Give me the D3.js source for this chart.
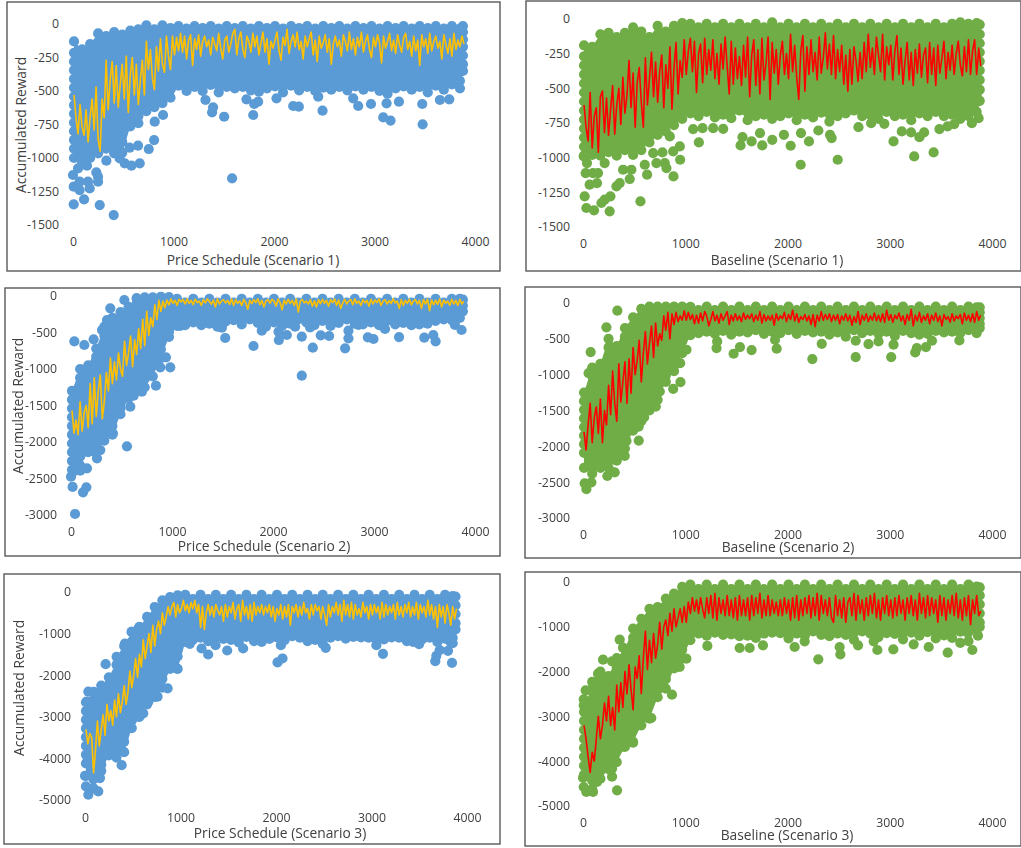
<!DOCTYPE html>
<html><head><meta charset="utf-8">
<script src="https://cdnjs.cloudflare.com/ajax/libs/d3/7.8.5/d3.min.js"></script>
<style>html,body{margin:0;padding:0;background:#fff}svg{display:block;filter:blur(.55px)}text{font-family:"Open Sans",sans-serif;font-size:12.3px;fill:#404040}text.t{font-size:13.8px}</style>
</head><body><svg id="c" width="1021" height="848"></svg>
<script>
const xTicks=[0,1000,2000,3000,4000];
const yTicks1=[0,-250,-500,-750,-1000,-1250,-1500];
const yTicks2=[0,-500,-1000,-1500,-2000,-2500,-3000];
const yTicks3=[0,-1000,-2000,-3000,-4000,-5000];
const titles=["Price Schedule (Scenario 1)","Baseline (Scenario 1)","Price Schedule (Scenario 2)","Baseline (Scenario 2)","Price Schedule (Scenario 3)","Baseline (Scenario 3)"];
const yTitle="Accumulated Reward";
const cloudX=[10,90,170,250,330,410,490,570,650,730,810,890,970,1050,1130,1210,1290,1370,1450,1530,1610,1690,1770,1850,1930,2010,2090,2170,2250,2330,2410,2490,2570,2650,2730,2810,2890,2970,3050,3130,3210,3290,3370,3450,3530,3610,3690,3770,3850,3880];
const lineX=[10,30,50,70,90,110,130,150,170,190,210,230,250,270,290,310,330,350,370,390,410,430,450,470,490,510,530,550,570,590,610,630,650,670,690,710,730,750,770,790,810,830,850,870,890,910,930,950,970,990,1010,1030,1050,1070,1090,1110,1130,1150,1170,1190,1210,1230,1250,1270,1290,1310,1330,1350,1370,1390,1410,1430,1450,1470,1490,1510,1530,1550,1570,1590,1610,1630,1650,1670,1690,1710,1730,1750,1770,1790,1810,1830,1850,1870,1890,1910,1930,1950,1970,1990,2010,2030,2050,2070,2090,2110,2130,2150,2170,2190,2210,2230,2250,2270,2290,2310,2330,2350,2370,2390,2410,2430,2450,2470,2490,2510,2530,2550,2570,2590,2610,2630,2650,2670,2690,2710,2730,2750,2770,2790,2810,2830,2850,2870,2890,2910,2930,2950,2970,2990,3010,3030,3050,3070,3090,3110,3130,3150,3170,3190,3210,3230,3250,3270,3290,3310,3330,3350,3370,3390,3410,3430,3450,3470,3490,3510,3530,3550,3570,3590,3610,3630,3650,3670,3690,3710,3730,3750,3770,3790,3810,3830,3850,3870,3890];

const cloud1=[
[-130,-215,-280,-345,-410,-475,-540,-605,-670,-735,-800,-865,-930,-1000],
[-190,-250,-315,-380,-445,-510,-575,-640,-705,-770,-835,-900,-965,-1030],
[-150,-215,-280,-345,-410,-475,-540,-605,-670,-735,-800,-865,-930,-1000],
[-70,-160,-250,-315,-380,-445,-510,-575,-640,-705,-770,-835,-900,-965],
[-90,-150,-215,-280,-345,-410,-475,-540,-605,-670,-735,-800,-865,-930],
[-60,-120,-185,-250,-315,-380,-445,-510,-575,-640,-705,-770,-835,-900,-965],
[-80,-145,-210,-275,-340,-405,-470,-535,-600,-665,-730,-795,-880,-960],
[-50,-115,-180,-245,-310,-375,-440,-505,-570,-635,-700,-765],
[-40,-105,-170,-235,-300,-365,-430,-495,-560,-625,-690,-740],
[-10,-75,-140,-205,-270,-335,-400,-465,-530,-595,-650],
[-40,-105,-170,-235,-300,-365,-430,-495,-560,-620],
[-10,-70,-135,-200,-265,-330,-395,-460,-525,-590],
[-30,-95,-160,-225,-290,-355,-420,-490,-550],
[-15,-72,-136,-200,-265,-330,-395,-460],
[-35,-100,-165,-230,-295,-360,-425,-500],
[-15,-72,-136,-200,-265,-330,-400,-470],
[-30,-100,-165,-230,-295,-360,-425,-500],
[-15,-72,-136,-200,-265,-330,-390,-455],
[-35,-100,-165,-230,-295,-360,-430,-510],
[-15,-72,-136,-200,-265,-330,-395,-470],
[-30,-100,-165,-230,-295,-355,-420,-480],
[-15,-72,-136,-200,-265,-335,-400,-470],
[-35,-100,-165,-230,-300,-365,-430,-495],
[-15,-72,-136,-200,-265,-330,-395,-505],
[-30,-100,-165,-230,-295,-360,-425,-480],
[-15,-72,-136,-200,-265,-330,-395,-465],
[-35,-100,-165,-230,-295,-360,-430,-510],
[-15,-72,-136,-200,-265,-330,-395,-460],
[-30,-100,-165,-230,-295,-360,-425,-495],
[-15,-72,-136,-200,-265,-330,-400,-470],
[-35,-100,-165,-230,-295,-365,-430,-500],
[-15,-72,-136,-200,-265,-330,-395,-475],
[-30,-100,-165,-230,-295,-360,-420,-490],
[-15,-72,-136,-200,-265,-330,-395,-470],
[-35,-100,-165,-230,-295,-360,-430,-495],
[-15,-72,-136,-200,-265,-330,-400,-465],
[-30,-100,-165,-230,-295,-360,-425,-490],
[-15,-72,-136,-200,-265,-330,-395,-470],
[-35,-100,-165,-230,-295,-360,-430,-500],
[-15,-72,-136,-200,-265,-335,-400,-520],
[-30,-100,-165,-230,-295,-360,-425,-480],
[-15,-72,-136,-200,-265,-330,-395,-465],
[-35,-100,-165,-230,-295,-360,-430,-490],
[-15,-72,-136,-200,-265,-330,-395,-470],
[-30,-100,-165,-230,-295,-360,-430,-510],
[-15,-72,-136,-200,-265,-330,-395,-460],
[-35,-100,-165,-230,-295,-360,-425,-490],
[-15,-72,-136,-200,-265,-330,-395,-450],
[-35,-100,-165,-230,-295,-360,-425,-480],
[-15,-60,-115,-170,-235,-300,-350]];
const outliers1=[[1583,-1152],[3479,-749],[3087,-697],[3160,-721],[2483,-647],[1504,-692],[1384,-659],[1394,-622],[1318,-567],[1793,-679],[1803,-597],[1726,-562],[1842,-580],[2025,-555],[2191,-612],[2247,-617],[2440,-542],[2788,-555],[2838,-612],[2965,-597],[3120,-592],[3243,-580],[3475,-597],[3651,-567],[3744,-562],[896,-679],[813,-729],[807,-866],[754,-933],[647,-908],[564,-923],[664,-1040],[581,-1057],[515,-1040],[465,-1003],[332,-1020],[249,-1177],[266,-1351],[405,-1426],[7,-1346],[110,-1309],[0,-1127],[7,-1214],[66,-1177],[149,-1177],[166,-1227],[139,-1057],[232,-1107],[50,-1077],[249,-1140],[66,-1239]];
const line1=[-530,-700,-820,-600,-770,-830,-640,-880,-700,-560,
-790,-470,-860,-950,-560,-700,-270,-640,-420,-280,
-590,-310,-620,-450,-300,-560,-240,-660,-380,-250,
-530,-300,-600,-420,-270,-530,-130,-340,-190,-400,
-490,-170,-350,-110,-300,-360,-90,-240,-340,-90,
-230,-100,-200,-70,-210,-90,-260,-120,-80,-310,
-110,-190,-80,-240,-130,-90,-170,-120,-230,-100,
-150,-200,-70,-180,-260,-120,-90,-210,-150,-70,
-40,-230,-110,-60,-190,-250,-90,-130,-210,-70,
-170,-90,-230,-140,-60,-210,-110,-300,-130,-180,
-120,-60,-200,-270,-100,-160,-40,-220,-130,-80,
-170,-60,-190,-130,-260,-90,-170,-110,-60,-230,
-120,-280,-90,-180,-140,-80,-210,-110,-300,-150,
-90,-170,-120,-240,-80,-130,-200,-60,-190,-110,
-230,-100,-170,-60,-210,-130,-80,-190,-250,-100,
-170,-80,-140,-290,-90,-180,-130,-70,-200,-120,
-220,-80,-160,-210,-100,-70,-190,-130,-240,-90,
-200,-120,-310,-80,-170,-110,-220,-70,-200,-130,
-90,-180,-130,-260,-80,-150,-220,-110,-240,-70,
-190,-120,-170,-90,-150];

const cloud2=[
[-190,-270,-335,-400,-465,-530,-595,-660,-725,-790,-855,-920,-985],
[-200,-265,-330,-395,-460,-525,-590,-655,-720,-785,-850,-915,-980],
[-110,-200,-270,-335,-400,-465,-530,-595,-660,-725,-790,-855,-920,-985],
[-100,-170,-240,-305,-370,-435,-500,-565,-630,-695,-760,-825,-890,-960],
[-130,-205,-270,-335,-400,-465,-530,-595,-660,-725,-790,-855,-920,-985],
[-100,-165,-230,-295,-360,-425,-490,-555,-620,-685,-750,-815,-880,-945],
[-60,-130,-200,-265,-330,-395,-460,-525,-590,-655,-720,-785,-850,-915,-980],
[-90,-155,-220,-285,-350,-415,-480,-545,-610,-675,-740,-805,-870,-945],
[-130,-195,-260,-325,-390,-455,-520,-585,-650,-715,-780,-845,-890],
[-50,-120,-185,-250,-315,-380,-445,-510,-575,-640,-705,-770,-835],
[-90,-160,-225,-290,-355,-420,-485,-550,-615,-680,-745,-810],
[-50,-115,-180,-245,-310,-375,-440,-505,-570,-635,-700,-765],
[-30,-85,-150,-215,-280,-345,-410,-475,-540,-605,-670,-720],
[-35,-100,-165,-230,-295,-360,-425,-490,-555,-620,-680],
[-60,-125,-190,-255,-320,-385,-450,-515,-580,-640,-700],
[-35,-100,-165,-230,-295,-360,-425,-490,-555,-620,-670],
[-60,-125,-190,-255,-320,-385,-450,-515,-580,-645,-710],
[-35,-100,-165,-230,-295,-360,-425,-490,-555,-620,-690],
[-60,-125,-190,-255,-320,-385,-450,-515,-580,-640,-715],
[-35,-100,-165,-230,-295,-360,-425,-490,-555,-610,-660],
[-60,-125,-190,-255,-320,-385,-450,-515,-580,-650,-730],
[-35,-100,-165,-230,-295,-360,-425,-490,-555,-620,-700],
[-60,-125,-190,-255,-320,-385,-450,-515,-580,-640,-690],
[-25,-100,-165,-230,-295,-360,-425,-490,-555,-620,-720],
[-60,-125,-190,-255,-320,-385,-450,-515,-580,-640,-700],
[-35,-100,-165,-230,-295,-360,-425,-490,-555,-620,-680],
[-60,-125,-190,-255,-320,-385,-450,-515,-580,-645,-730],
[-35,-100,-165,-230,-295,-360,-425,-490,-555,-620,-690],
[-60,-125,-190,-255,-320,-385,-450,-515,-580,-650,-710],
[-35,-100,-165,-230,-295,-360,-425,-490,-555,-620,-675],
[-60,-125,-190,-255,-320,-385,-450,-515,-580,-640,-740],
[-35,-100,-165,-230,-295,-360,-425,-490,-555,-620,-700],
[-60,-125,-190,-255,-320,-385,-450,-515,-580,-645,-680],
[-35,-100,-165,-230,-295,-360,-425,-490,-555,-610,-660],
[-60,-125,-190,-255,-320,-385,-450,-515,-580,-640,-700],
[-35,-100,-165,-230,-295,-360,-425,-490,-555,-620,-690],
[-60,-125,-190,-255,-320,-385,-450,-515,-580,-640,-720],
[-35,-100,-165,-230,-295,-360,-425,-490,-555,-610,-670],
[-60,-125,-190,-255,-320,-385,-450,-515,-580,-650,-700],
[-35,-100,-165,-230,-295,-360,-425,-490,-555,-620,-690],
[-60,-125,-190,-255,-320,-385,-450,-515,-580,-640,-730],
[-35,-100,-165,-230,-295,-360,-425,-490,-555,-610,-680],
[-60,-125,-190,-255,-320,-385,-450,-515,-580,-640,-700],
[-35,-100,-165,-230,-295,-360,-425,-490,-555,-620,-670],
[-60,-125,-190,-255,-320,-385,-450,-515,-580,-645,-700],
[-35,-100,-165,-230,-295,-360,-425,-490,-555,-620,-690],
[-25,-125,-190,-255,-320,-385,-450,-515,-580,-640,-720],
[-35,-100,-165,-230,-295,-360,-425,-490,-555,-620,-700],
[-30,-95,-160,-225,-290,-355,-420,-485,-550,-600,-670],
[-40,-110,-175,-240,-305,-370,-440,-510,-590]];
const outliers2=[[2129,-1051],[2491,-1015],[3239,-991],[3429,-962],[3037,-883],[1133,-890],[950,-1015],[885,-1135],[627,-1123],[562,-1315],[457,-1154],[261,-1387],[108,-1380],[33,-1363],[16,-1279],[268,-1279],[180,-1327],[212,-1303],[327,-1207],[359,-1183],[26,-1111],[98,-1111],[147,-1111],[137,-1183],[65,-1195],[39,-1039],[7,-991],[212,-1039],[392,-1087],[473,-1087],[604,-1051],[686,-967],[777,-962],[800,-1039],[816,-1075],[718,-1039],[882,-955],[947,-919],[849,-847],[1541,-912],[1649,-883],[1753,-912],[1851,-871],[2031,-914],[2210,-883],[2432,-859],[2416,-835],[2132,-823],[1965,-835],[2302,-804],[2694,-780],[2818,-751],[2947,-756],[3118,-811],[3209,-818],[3290,-852],[3336,-818],[3486,-794],[3565,-775],[3631,-758],[3803,-751],[3869,-715],[1371,-792],[1273,-787],[1077,-794],[1169,-787],[1560,-852],[1731,-823]];
const line2=[-620,-780,-880,-530,-930,-700,-640,-960,-560,-520,
-820,-570,-840,-650,-480,-830,-620,-500,-760,-420,
-680,-550,-300,-640,-390,-780,-460,-350,-600,-780,
-280,-620,-430,-240,-560,-310,-600,-380,-260,-640,
-330,-500,-200,-650,-350,-170,-540,-300,-420,-150,
-400,-230,-140,-380,-160,-530,-250,-180,-460,-140,
-400,-220,-370,-150,-430,-250,-470,-180,-360,-130,
-340,-540,-160,-470,-210,-430,-270,-480,-190,-420,
-130,-560,-260,-150,-480,-220,-540,-140,-440,-320,
-130,-580,-170,-390,-220,-470,-260,-160,-400,-250,
-430,-110,-380,-190,-420,-580,-230,-120,-520,-200,
-400,-150,-380,-240,-440,-130,-390,-280,-100,-360,
-180,-400,-120,-430,-220,-380,-190,-470,-260,-520,
-220,-470,-200,-300,-450,-240,-430,-170,-380,-110,
-350,-210,-400,-130,-260,-380,-110,-440,-200,-330,
-190,-440,-230,-120,-400,-210,-470,-300,-170,-440,
-240,-480,-220,-390,-180,-420,-260,-210,-460,-170,
-400,-210,-480,-190,-390,-280,-160,-430,-240,-370,
-190,-400,-250,-160,-330,-410,-200,-380,-150,-400,
-230,-150,-400,-210,-340];

const cloud3=[
[-1300,-1420,-1540,-1660,-1780,-1900,-2020,-2140,-2260,-2380],
[-1000,-1120,-1240,-1360,-1480,-1600,-1720,-1840,-1960,-2080,-2200,-2320],
[-950,-1060,-1180,-1300,-1420,-1540,-1660,-1780,-1900,-2020,-2140],
[-720,-830,-950,-1070,-1190,-1310,-1430,-1550,-1670,-1790,-1910,-2030,-2150],
[-420,-540,-660,-780,-900,-1020,-1140,-1260,-1380,-1500,-1620,-1740,-1860,-1980],
[-300,-420,-540,-660,-780,-900,-1020,-1140,-1260,-1380,-1500,-1620,-1780,-1900],
[-220,-340,-460,-580,-700,-820,-940,-1060,-1180,-1300,-1420,-1540,-1620],
[-150,-270,-390,-510,-630,-750,-870,-990,-1110,-1230,-1350,-1400],
[-30,-100,-220,-340,-460,-580,-700,-820,-940,-1060,-1180,-1300],
[-20,-130,-250,-370,-490,-610,-730,-850,-970,-1090,-1250],
[-20,-110,-230,-350,-470,-590,-710,-830,-950,-1100],
[-10,-130,-250,-370,-490,-610,-730,-850],
[-15,-130,-250,-370,-490,-560],
[-40,-150,-270,-370,-410],
[-90,-210,-330,-400],
[-40,-160,-280,-360],
[-90,-210,-320,-400],
[-40,-160,-280,-380],
[-90,-210,-330,-420],
[-40,-160,-280,-350],
[-90,-210,-330],
[-40,-160,-280,-390],
[-90,-210,-320],
[-40,-160,-280,-370],
[-90,-210,-330,-420],
[-40,-160,-280,-360],
[-90,-210,-330,-410],
[-40,-160,-280,-380],
[-90,-210,-320],
[-40,-160,-280,-360],
[-90,-210,-330,-400],
[-40,-160,-280,-340],
[-90,-210,-330,-410],
[-40,-160,-280,-370],
[-90,-210,-320],
[-40,-160,-280,-380],
[-90,-210,-330,-390],
[-40,-160,-280,-360],
[-90,-210,-330,-400],
[-40,-160,-280,-340],
[-90,-210,-320,-390],
[-40,-160,-280,-370],
[-90,-210,-330,-400],
[-40,-160,-280,-390],
[-90,-210,-330,-380],
[-40,-160,-280,-340],
[-90,-210,-320],
[-40,-160,-280,-330],
[-40,-120,-230,-300],
[-50,-130,-210]];
const outliers3=[[2285,-1091],[40,-2986],[119,-2689],[152,-2621],[16,-2616],[0,-2475],[554,-2059],[587,-1516],[841,-1228],[884,-977],[983,-977],[940,-840],[620,-1365],[702,-1310],[1527,-575],[1807,-685],[2285,-557],[2394,-708],[2714,-717],[2058,-603],[2055,-489],[2137,-534],[2473,-539],[2556,-548],[2747,-580],[2747,-475],[2939,-566],[2995,-589],[3248,-562],[3109,-452],[3498,-571],[3587,-534],[3610,-621],[3867,-466],[3801,-397],[1889,-475],[2367,-429],[2219,-420],[1494,-434],[1081,-411],[2845,-397],[528,-55],[33,-621],[132,-671],[224,-594],[307,-466],[389,-169],[356,-329],[415,-1881],[290,-2110],[257,-2224],[158,-2361],[92,-2393],[33,-2283],[20,-2406]];
const line3=[-1570,-1880,-1700,-1900,-1450,-1850,-1600,-1500,-1800,-1200,
-1750,-1120,-1650,-1300,-1080,-1680,-1450,-1050,-1300,-850,
-1200,-900,-1150,-780,-1000,-1100,-620,-950,-780,-550,
-970,-600,-800,-450,-720,-320,-680,-210,-540,-300,
-420,-120,-320,-60,-210,-70,-160,-55,-120,-40,
-100,-60,-130,-45,-80,-50,-110,-40,-100,-60,
-120,-45,-90,-70,-130,-50,-95,-40,-75,-110,
-55,-150,-40,-110,-70,-50,-95,-60,-115,-40,
-130,-50,-100,-70,-130,-45,-90,-180,-60,-105,
-50,-90,-40,-120,-60,-150,-70,-50,-100,-45,
-70,-140,-40,-90,-190,-55,-110,-45,-100,-60,
-130,-40,-220,-70,-50,-95,-70,-110,-50,-140,
-65,-150,-50,-105,-45,-100,-60,-140,-50,-90,
-40,-130,-55,-170,-95,-45,-110,-70,-50,-120,
-40,-100,-70,-130,-50,-95,-60,-140,-45,-110,
-55,-90,-40,-130,-70,-50,-110,-65,-100,-40,
-95,-70,-170,-50,-130,-60,-100,-45,-120,-70,
-50,-110,-60,-170,-50,-110,-45,-200,-55,-120,
-60,-115,-40,-150,-55,-100,-70,-130,-45,-110,
-60,-130,-45,-110,-70];

const cloud4=[
[-1250,-1370,-1490,-1610,-1730,-1850,-1970,-2090,-2300],
[-900,-1020,-1140,-1260,-1380,-1500,-1620,-1740,-1860,-1980,-2100,-2220,-2380],
[-850,-970,-1090,-1210,-1330,-1450,-1570,-1690,-1810,-1930,-2050,-2170,-2300],
[-500,-620,-740,-860,-980,-1100,-1220,-1340,-1460,-1580,-1700,-1820,-1940,-2060,-2180,-2300],
[-600,-720,-840,-960,-1080,-1200,-1320,-1440,-1560,-1680,-1800,-1920,-2040,-2200],
[-350,-470,-590,-710,-830,-950,-1070,-1190,-1310,-1430,-1550,-1670,-1790,-1910,-2030],
[-200,-320,-440,-560,-680,-800,-920,-1040,-1160,-1280,-1400,-1520,-1640,-1780],
[-80,-200,-320,-440,-560,-680,-800,-920,-1040,-1160,-1280,-1400,-1520,-1650],
[-50,-170,-290,-410,-530,-650,-770,-890,-1010,-1130,-1250,-1370,-1500],
[-50,-150,-270,-390,-510,-630,-750,-870,-990,-1110,-1230,-1350],
[-50,-170,-290,-410,-530,-650,-770,-890,-1010,-1100],
[-50,-160,-280,-400,-520,-640,-760,-880,-950],
[-50,-170,-290,-410,-530,-640,-700],
[-55,-175,-300,-390,-450],
[-100,-225,-350,-420],
[-50,-175,-300,-400],
[-100,-225,-350,-430],
[-50,-175,-300,-390],
[-100,-225,-350,-440],
[-50,-175,-300,-400],
[-100,-225,-350,-410],
[-50,-175,-300,-380],
[-100,-225,-350,-430],
[-50,-175,-300,-400],
[-100,-225,-350,-420],
[-50,-175,-300,-380],
[-100,-225,-350,-430],
[-50,-175,-300,-390],
[-100,-225,-350,-410],
[-50,-175,-300,-400],
[-100,-225,-350,-440],
[-50,-175,-300,-410],
[-100,-225,-350,-470],
[-50,-175,-300,-380],
[-100,-225,-350,-420],
[-50,-175,-300,-390],
[-100,-225,-350,-430],
[-50,-175,-300,-400],
[-100,-225,-350,-460],
[-50,-175,-300,-390],
[-100,-225,-350,-420],
[-50,-175,-300,-440],
[-100,-225,-350,-430],
[-50,-175,-300,-390],
[-100,-225,-350,-410],
[-50,-175,-300,-400],
[-100,-225,-350,-420],
[-50,-175,-300,-380],
[-60,-140,-250,-350,-420],
[-60,-130,-210,-290,-350]];
const outliers4=[[336,-107],[75,-685],[229,-340],[55,-979],[1012,-652],[1312,-536],[1306,-629],[1473,-708],[1535,-615],[1649,-657],[2243,-783],[2335,-569],[2667,-755],[1894,-638],[1878,-513],[2667,-527],[2792,-573],[2890,-536],[3014,-755],[3037,-582],[3249,-690],[3265,-629],[3354,-615],[3413,-527],[3681,-522],[950,-839],[953,-1104],[882,-1198],[777,-1062],[545,-1920],[545,-1724],[598,-1594],[408,-2134],[425,-1925],[310,-2363],[238,-2414],[82,-2502],[16,-2516],[33,-2596],[712,-1445],[637,-1468],[506,-1491],[702,-1351],[751,-1235]];
const line4=[-1800,-2050,-1700,-1400,-1950,-1600,-1450,-1820,-1340,-1950,
-1500,-1700,-1150,-1560,-950,-1400,-1650,-850,-1380,-1100,
-820,-1400,-780,-1260,-620,-1000,-800,-520,-1100,-700,
-400,-850,-560,-320,-760,-280,-600,-430,-520,-180,
-380,-130,-500,-150,-300,-130,-260,-180,-240,-110,
-240,-130,-230,-160,-290,-170,-280,-140,-250,-120,
-180,-320,-230,-120,-250,-170,-280,-150,-240,-180,
-120,-300,-170,-250,-150,-240,-180,-260,-140,-230,
-170,-220,-150,-260,-170,-240,-120,-280,-160,-250,
-180,-240,-170,-310,-150,-240,-180,-220,-130,-260,
-160,-230,-100,-250,-150,-270,-190,-230,-160,-250,
-180,-300,-160,-330,-170,-250,-120,-240,-160,-230,
-150,-260,-170,-240,-160,-290,-180,-240,-150,-250,
-170,-310,-190,-270,-120,-300,-170,-240,-150,-260,
-180,-240,-140,-250,-170,-260,-150,-270,-100,-240,
-160,-270,-170,-220,-140,-250,-180,-300,-160,-240,
-90,-320,-170,-250,-130,-270,-180,-240,-150,-290,
-170,-240,-140,-260,-180,-320,-160,-230,-190,-270,
-150,-250,-180,-220,-160,-290,-140,-240,-170,-260,
-150,-270,-120,-240,-170];

const cloud5=[
[-2650,-2860,-3070,-3280,-3490,-3700,-3910,-4120,-4420],
[-2400,-2600,-2810,-3020,-3230,-3440,-3650,-3860,-4070,-4280,-4500,-4720],
[-2250,-2460,-2670,-2880,-3090,-3300,-3510,-3720,-3930,-4150,-4300],
[-2050,-2260,-2470,-2680,-2890,-3100,-3310,-3520,-3730,-3930],
[-1750,-1950,-2160,-2370,-2580,-2790,-3000,-3210,-3420,-3630,-3850,-3980],
[-1300,-1500,-1710,-1920,-2130,-2340,-2550,-2760,-2970,-3180,-3390,-3600,-3850],
[-960,-1200,-1410,-1620,-1830,-2040,-2250,-2460,-2670,-2880,-3090,-3270],
[-840,-1050,-1260,-1470,-1680,-1890,-2100,-2310,-2520,-2730,-3000],
[-600,-810,-1020,-1230,-1440,-1650,-1860,-2070,-2280,-2490,-2700],
[-360,-570,-780,-990,-1200,-1410,-1620,-1830,-2040,-2250,-2520],
[-200,-410,-620,-830,-1040,-1250,-1460,-1670,-1880,-2090,-2300],
[-120,-330,-540,-750,-960,-1170,-1380,-1590,-1850],
[-80,-290,-500,-710,-920,-1130,-1340,-1550,-1850],
[-70,-280,-490,-700,-910,-1090,-1200],
[-170,-380,-590,-800,-1000,-1150],
[-70,-280,-490,-700,-910,-1100],
[-170,-380,-590,-800,-1000,-1180],
[-70,-280,-490,-700,-910,-1080],
[-170,-380,-590,-800,-1000,-1130],
[-70,-280,-490,-700,-910,-1150],
[-170,-380,-590,-800,-1000,-1210],
[-70,-280,-490,-700,-910,-1080],
[-170,-380,-590,-800,-1000,-1180],
[-70,-280,-490,-700,-910,-1200],
[-170,-380,-590,-800,-1000,-1130],
[-70,-280,-490,-700,-910,-1090],
[-170,-380,-590,-800,-1000,-1160],
[-70,-280,-490,-700,-910,-1060],
[-170,-380,-590,-800,-1000,-1100],
[-70,-280,-490,-700,-910,-1180],
[-170,-380,-590,-800,-1000,-1150],
[-70,-280,-490,-700,-910,-1250],
[-170,-380,-590,-800,-1000,-1100],
[-70,-280,-490,-700,-910,-1060],
[-170,-380,-590,-800,-1000,-1120],
[-70,-280,-490,-700,-910,-1080],
[-170,-380,-590,-800,-1000,-1090],
[-70,-280,-490,-700,-910,-1100],
[-170,-380,-590,-800,-1000,-1150],
[-70,-280,-490,-700,-910,-1140],
[-170,-380,-590,-800,-1000,-1090],
[-70,-280,-490,-700,-910,-1100],
[-170,-380,-590,-800,-1000,-1180],
[-70,-280,-490,-700,-910,-1090],
[-170,-380,-590,-800,-1000,-1140],
[-70,-280,-490,-700,-910,-1100],
[-170,-380,-590,-800,-1000,-1200],
[-70,-280,-490,-700,-910,-1120],
[-100,-300,-500,-720,-920,-1100,-1230],
[-110,-320,-530,-750,-900]];
const outliers5=[[384,-4163],[216,-1734],[2016,-1694],[2068,-1598],[3120,-1486],[3668,-1662],[3679,-1534],[3843,-1702],[3714,-1398],[3801,-1414],[1290,-1502],[1489,-1406],[1220,-1358],[1656,-1358],[2521,-1342],[3498,-1254],[3435,-1198],[3051,-1278],[2051,-1278],[3826,-1198],[1367,-1278],[1098,-1246],[35,-4874],[139,-4794],[10,-4674],[0,-4418],[157,-4474],[157,-4275],[732,-2517],[663,-2637],[610,-2916],[558,-2996],[865,-2317],[760,-2517],[959,-1838],[488,-959],[558,-879],[418,-1238],[331,-1558],[17,-2637],[35,-2397]];
const line5=[-3300,-3650,-3400,-3500,-4350,-3800,-3100,-3700,-3300,-2950,
-3450,-2700,-3100,-2850,-3200,-2600,-3000,-2450,-2900,-2650,
-2250,-2700,-2400,-1900,-2300,-2000,-1600,-2050,-1500,-1800,
-1150,-1600,-1300,-1000,-1450,-800,-1300,-900,-700,-1000,
-500,-800,-600,-350,-550,-350,-250,-600,-300,-500,
-400,-200,-450,-300,-500,-250,-400,-200,-500,-300,
-850,-350,-900,-500,-300,-550,-350,-600,-300,-450,
-550,-350,-700,-300,-600,-350,-500,-250,-650,-400,
-300,-700,-200,-550,-350,-650,-300,-700,-250,-550,
-350,-500,-300,-550,-350,-500,-300,-600,-350,-700,
-400,-550,-300,-650,-350,-600,-300,-800,-350,-500,
-300,-600,-350,-550,-250,-500,-400,-650,-300,-550,
-300,-450,-350,-650,-350,-550,-800,-300,-600,-350,
-500,-250,-550,-300,-700,-200,-550,-300,-600,-250,
-650,-300,-550,-400,-600,-250,-500,-350,-650,-300,
-550,-300,-500,-350,-650,-250,-600,-300,-550,-350,
-500,-300,-650,-250,-550,-350,-600,-300,-500,-250,
-600,-350,-550,-250,-650,-300,-500,-350,-600,-200,
-550,-300,-650,-350,-850,-300,-600,-350,-750,-300,
-500,-800,-350,-650,-400];

const cloud6=[
[-2900,-3100,-3300,-3500,-3700,-3900,-4100,-4300],
[-2230,-2430,-2630,-2830,-3030,-3230,-3430,-3630,-3830,-4030,-4230,-4430,-4620],
[-2000,-2200,-2400,-2600,-2800,-3000,-3200,-3400,-3600,-3800,-4000,-4200,-4390],
[-2100,-2300,-2500,-2700,-2900,-3100,-3300,-3500,-3700,-3900,-4180],
[-1700,-1900,-2100,-2300,-2500,-2700,-2900,-3100,-3300,-3500,-3700,-4020],
[-1490,-1690,-1890,-2090,-2290,-2490,-2690,-2890,-3090,-3290,-3490,-3680],
[-1040,-1240,-1440,-1640,-1840,-2040,-2240,-2440,-2640,-2840,-3040,-3240,-3570],
[-820,-1020,-1220,-1420,-1620,-1820,-2020,-2220,-2420,-2620,-2820,-3200],
[-600,-800,-1000,-1200,-1400,-1600,-1800,-2000,-2200,-2400,-2600,-3050],
[-560,-760,-960,-1160,-1360,-1560,-1760,-1960,-2160,-2360,-2570],
[-370,-570,-770,-970,-1170,-1370,-1570,-1770,-1970,-2170,-2380],
[-260,-460,-660,-860,-1060,-1260,-1460,-1660,-1930],
[-110,-310,-510,-710,-910,-1110,-1310,-1510,-1710],
[-60,-260,-460,-660,-860,-1060,-1300],
[-160,-360,-560,-760,-960,-1150],
[-60,-260,-460,-660,-860,-1060,-1200],
[-160,-360,-560,-760,-960,-1130],
[-60,-260,-460,-660,-860,-1060,-1180],
[-160,-360,-560,-760,-960,-1170],
[-60,-260,-460,-660,-860,-1060,-1210],
[-160,-360,-560,-760,-960,-1200],
[-60,-260,-460,-660,-860,-1060,-1250],
[-160,-360,-560,-760,-960,-1150],
[-60,-260,-460,-660,-860,-1060,-1130],
[-160,-360,-560,-760,-960,-1140],
[-60,-260,-460,-660,-860,-1060,-1260],
[-160,-360,-560,-760,-960,-1150],
[-60,-260,-460,-660,-860,-1060,-1200],
[-160,-360,-560,-760,-960,-1100],
[-60,-260,-460,-660,-860,-1060,-1180],
[-160,-360,-560,-760,-960,-1210],
[-60,-260,-460,-660,-860,-1060,-1150],
[-160,-360,-560,-760,-960,-1180],
[-60,-260,-460,-660,-860,-1060,-1290],
[-160,-360,-560,-760,-960,-1100],
[-60,-260,-460,-660,-860,-1060,-1150],
[-160,-360,-560,-760,-960,-1230],
[-60,-260,-460,-660,-860,-1060,-1140],
[-160,-360,-560,-760,-960,-1160],
[-60,-260,-460,-660,-860,-1060,-1280],
[-160,-360,-560,-760,-960,-1130],
[-60,-260,-460,-660,-860,-1060,-1200],
[-160,-360,-560,-760,-960,-1120],
[-60,-260,-460,-660,-860,-1060,-1260],
[-160,-360,-560,-760,-960,-1190],
[-60,-260,-460,-660,-860,-1060,-1250],
[-160,-360,-560,-760,-960,-1110],
[-60,-260,-460,-660,-860,-1060,-1320],
[-100,-300,-500,-700,-900,-1050],
[-120,-300,-500,-700,-900,-1000]];
const outliers6=[[2301,-1726],[2517,-1615],[2510,-1451],[2070,-1451],[2168,-1324],[1532,-1473],[1630,-1473],[1216,-1428],[1760,-1414],[2690,-1414],[2879,-1518],[3035,-1503],[3234,-1391],[3381,-1451],[3567,-1577],[3808,-1518],[3863,-1198],[3690,-1361],[2843,-1324],[1011,-1711],[945,-1897],[870,-2515],[668,-3036],[489,-3586],[333,-4650],[284,-4345],[284,-4166],[300,-3906],[375,-3683],[554,-3184],[98,-4687],[33,-4687],[7,-4576],[0,-4367],[137,-4464],[196,-1733],[284,-1771],[359,-1287],[391,-1466],[26,-2418],[7,-2619],[7,-2753],[147,-2046],[98,-2269]];
const line6=[-3200,-3500,-3900,-4250,-3800,-4000,-3500,-3000,-3500,-3200,
-2700,-3100,-2550,-3200,-2800,-3300,-2300,-2900,-2250,-2800,
-2000,-2500,-1850,-2400,-2850,-1900,-2150,-1650,-2490,-1700,
-1100,-1950,-1300,-1800,-1150,-1700,-1400,-900,-1500,-1000,
-850,-1200,-700,-1100,-600,-1000,-800,-600,-900,-550,
-900,-450,-700,-350,-650,-400,-700,-350,-600,-800,
-350,-700,-300,-800,-250,-850,-350,-700,-400,-750,
-300,-750,-400,-800,-350,-850,-300,-750,-400,-750,
-350,-850,-300,-750,-350,-700,-250,-800,-400,-750,
-300,-750,-400,-700,-450,-750,-400,-750,-350,-700,
-400,-850,-350,-800,-300,-850,-400,-750,-350,-700,
-300,-800,-350,-750,-250,-850,-300,-700,-400,-750,
-350,-800,-900,-300,-750,-400,-800,-350,-900,-450,
-350,-750,-250,-850,-300,-700,-400,-850,-350,-750,
-300,-700,-250,-800,-400,-850,-350,-700,-300,-750,
-400,-800,-350,-750,-300,-700,-400,-850,-350,-700,
-300,-750,-400,-850,-250,-700,-350,-800,-300,-750,
-350,-700,-400,-900,-300,-750,-350,-850,-400,-700,
-300,-750,-250,-800,-400,-850,-350,-750,-300,-950,
-400,-700,-300,-750,-650];

const blue="#5B9BD5",green="#70AD47",amber="#FFC000",red="#FF0000";
const panels=[
{box:[7,2,500,271],xr:[73,475],yr:[24,225],yd:-1500,yt:yTicks1,cloud:cloud1,out:outliers1,line:line1,dot:blue,lc:amber,xl:242,tx:253,ty:260,yl:59,ytx:21,yty:125},
{box:[526,1,1021,271],xr:[583,992],yr:[19,227],yd:-1500,yt:yTicks1,cloud:cloud2,out:outliers2,line:line2,dot:green,lc:red,xl:244,tx:777,ty:260,yl:570},
{box:[5,288,500,556],xr:[71,475],yr:[296,515],yd:-3000,yt:yTicks2,cloud:cloud3,out:outliers3,line:line3,dot:blue,lc:amber,xl:532,tx:264,ty:546,yl:57,ytx:18,yty:406},
{box:[525,287,1021,558],xr:[583,992],yr:[303,518],yd:-3000,yt:yTicks2,cloud:cloud4,out:outliers4,line:line4,dot:green,lc:red,xl:535,tx:788,ty:547,yl:570},
{box:[4,574,500,844],xr:[85,467],yr:[592,800],yd:-5000,yt:yTicks3,cloud:cloud5,out:outliers5,line:line5,dot:blue,lc:amber,xl:818,tx:280,ty:833,yl:71,ytx:19,yty:688},
{box:[525,572,1021,846],xr:[583,992],yr:[582,806],yd:-5000,yt:yTicks3,cloud:cloud6,out:outliers6,line:line6,dot:green,lc:red,xl:823,tx:787,ty:835,yl:570}];
const svg=d3.select("#c");
panels.forEach((p,i)=>{
  const g=svg.append("g");
  const [x0,y0,x1,y1]=p.box;
  g.append("rect").attr("x",x0).attr("y",y0).attr("width",x1-x0).attr("height",y1-y0).attr("fill","#fff").attr("stroke","#595959").attr("stroke-width",1.4);
  const x=d3.scaleLinear().domain([0,4000]).range(p.xr);
  const y=d3.scaleLinear().domain([0,p.yd]).range(p.yr);
  const band=d3.area().x((d,k)=>x(cloudX[k])).y0(d=>y(d3.min(d))).y1(d=>y(d3.max(d)));
  g.append("path").datum(p.cloud).attr("d",band).attr("fill",p.dot);
  const pts=[];
  p.cloud.forEach((col,k)=>col.forEach(v=>pts.push([cloudX[k],v])));
  p.out.forEach(d=>pts.push(d));
  g.append("g").selectAll("circle").data(pts).join("circle").attr("cx",d=>x(d[0])).attr("cy",d=>y(d[1])).attr("r",5.1).attr("fill",p.dot);
  const ln=d3.line().x((d,k)=>x(lineX[k])).y(d=>y(d));
  g.append("path").datum(p.line).attr("d",ln).attr("fill","none").attr("stroke",p.lc).attr("stroke-width",1.6).attr("stroke-linejoin","round");
  const ax=g.append("g").attr("transform",`translate(0,${p.xl})`).call(d3.axisBottom(x).tickValues(xTicks).tickFormat(String).tickSize(0).tickPadding(0));
  ax.select(".domain").remove();
  ax.selectAll("text").attr("y",0).attr("dy",".36em");
  const ay=g.append("g").attr("transform",`translate(${p.yl},0)`).call(d3.axisLeft(y).tickValues(p.yt).tickFormat(String).tickSize(0).tickPadding(0));
  ay.select(".domain").remove();
  ay.selectAll("text").attr("x",0);
  g.append("text").attr("class","t").attr("x",p.tx).attr("y",p.ty).attr("dy",".36em").attr("text-anchor","middle").text(titles[i]);
  if(p.ytx) g.append("text").attr("class","t").attr("transform",`translate(${p.ytx},${p.yty}) rotate(-90)`).attr("dy",".36em").attr("text-anchor","middle").text(yTitle);
});
</script></body></html>
